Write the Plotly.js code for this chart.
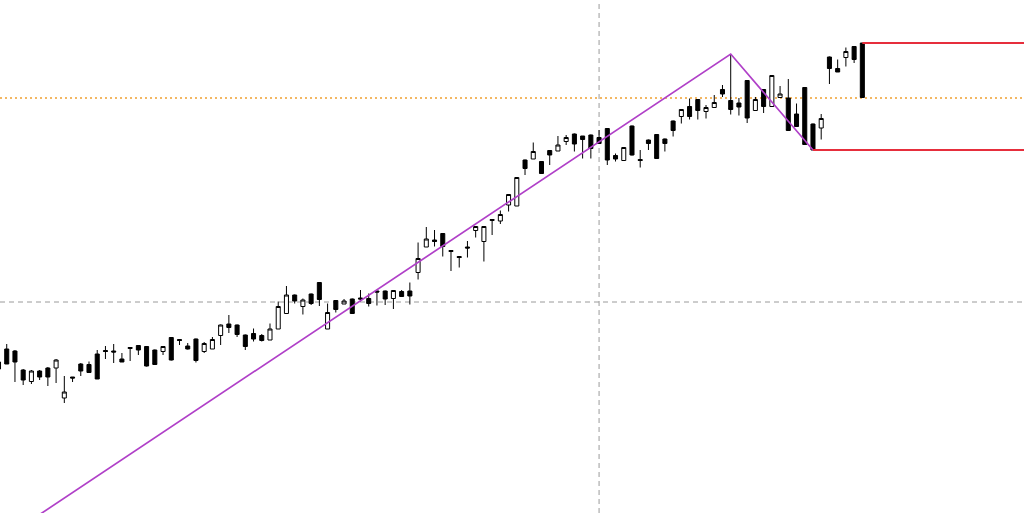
<!DOCTYPE html>
<html>
<head>
<meta charset="utf-8">
<script src="https://cdn.plot.ly/plotly-3.0.1.min.js"></script>
<style>html,body{margin:0;padding:0;background:#fff;}#chart{width:1024px;height:513px;}</style>
</head>
<body>
<div id="chart"></div>
<script>
// Price levels (arbitrary units), one candle per bar index
const opens = [151,164,162,143,131.5,142,145,145,115,136,149,148.5,159,162.5,162,154,164.5,167.5,166.5,163,161.5,175.5,173.5,167,174,161.5,164,177.5,189,188,178,179.5,177.5,173,184,199.5,218,206.5,219,230.5,184,212.5,209,214,215,214.5,222,222,214.5,221.5,222,240.5,266,273,279.5,262.5,256.5,266,282.5,271.5,292.5,292,308,307,353,354,351.5,362.5,362,371.5,379,377,378,375.5,384.5,357.5,352.5,387,353.5,373,378.5,374,392,396.5,406.5,413.5,401.5,405.5,423.5,412.5,410,432.5,402.5,423.5,406.5,415.5,415,399,425.5,389,385,456,444.5,455.5,466.5,470];
const highs = [153,169,163,144,143,143,146,154,137,136,150,151.5,163,167,169,160,166,167.5,167,163.5,167,176,173.5,170,174.5,171,176,188.5,198,188.5,178.5,184.5,179,189.5,211.5,227,218.5,214.5,219.5,231,209.5,213,214,214.5,223,219.5,222.5,222.5,223,223,230.5,270.5,286,283,280,262.5,256.5,272,287,287,293.5,302.5,319,336,353.5,370.5,352,363,377,378,379.5,377,378.5,383,385,359.5,366,387.5,363,373.5,379,374.5,392.5,404,414.5,414,408,418,428,459,415,433,416,424,438,427,434,409.5,426,389.5,399,456.5,453.5,465.5,467,470];
const lows = [142,149,131,128,129,133,127,130,110,131,137,140,134,154,150,151,152,158,146.5,148,158,152.5,168,163.5,150.5,160,164,168,180,176,163,171.5,171.5,173,184,199.5,209.5,198.5,208,207,184,200.5,209,199.5,211.5,206.5,207.5,208,204,216,208.5,233.5,266,266.5,256.5,242,245.5,255.5,275.5,251.5,278,289,301.5,307,338,354,339.5,348,362,368,361.5,354.5,354.5,369,348,351.5,352,357.5,345.5,363,354,361.5,376.5,389.5,393.5,393.5,394.5,405.5,416,398.5,397.5,390,402.5,400,406.5,415.5,382,386,368,363,373.5,429,441,446.5,450,415.5];
const closes = [144,149,151,133,142,136,136,153,121,135,142,140.5,134,161.5,161,151,165.5,163,147,148.5,166.5,153,172.5,164,152.5,169.5,173.5,188,185.5,178.5,166.5,174,172.5,184,206.5,218,212,213,209.5,213.5,200.5,203.5,212,199.5,214,209.5,221,214,222.5,216.5,217,254.5,274,271.5,266.5,261.5,255.5,265,286.5,286.5,293.5,298.5,318.5,335.5,344.5,361.5,339.5,358,368,375.5,369,373.5,364.5,369.5,353,354,365.5,358,352.5,369.5,354.5,369.5,382.5,403.5,396.5,402.5,405.5,410.5,419,403.5,406,395,413.5,406.5,437.5,419,382.5,386.5,368.5,363,394.5,444.5,441,461.5,453.5,415.5];
const bars = opens.map((_, i) => i);

// Trend line (zig-zag) anchor bars and levels
const trendBars = [4, 89, 99];
const trendLevels = [-7, 459, 363];

// Horizontal levels
const levelSupport = 211;      // grey dashed
const levelCurrent = 415;      // orange dotted
const levelRedTop = 470;       // red, from last bar
const levelRedBottom = 363;    // red, from bar 99
const redTopStart = 105;
const redBottomStart = 99;
const crossBar = 73;           // grey dashed vertical

const xMin = 0.182, xMax = 124.65;

const traces = [
  {
    type: 'candlestick',
    x: bars, open: opens, high: highs, low: lows, close: closes,
    increasing: {line: {color: '#000000', width: 1}, fillcolor: '#ffffff'},
    decreasing: {line: {color: '#000000', width: 1}, fillcolor: '#000000'},
    whiskerwidth: 0,
    hoverinfo: 'skip'
  },
  {
    type: 'scatter', mode: 'lines',
    x: trendBars, y: trendLevels,
    line: {color: '#b040c8', width: 1.7},
    hoverinfo: 'skip'
  },
  {
    type: 'scatter', mode: 'lines',
    x: [redTopStart, xMax + 1], y: [levelRedTop, levelRedTop],
    line: {color: '#e62e3c', width: 1.9}, hoverinfo: 'skip'
  },
  {
    type: 'scatter', mode: 'lines',
    x: [redBottomStart, xMax + 1], y: [levelRedBottom, levelRedBottom],
    line: {color: '#e62e3c', width: 1.9}, hoverinfo: 'skip'
  }
];

const layout = {
  width: 1024, height: 513,
  margin: {l: 0, r: 0, t: 0, b: 0},
  paper_bgcolor: '#ffffff', plot_bgcolor: '#ffffff',
  showlegend: false,
  xaxis: {range: [xMin, xMax], visible: false, rangeslider: {visible: false}, fixedrange: true},
  yaxis: {range: [0, 513], visible: false, fixedrange: true},
  shapes: [
    {type: 'line', xref: 'x', yref: 'paper', x0: crossBar, x1: crossBar, y0: 0, y1: 1,
     line: {color: '#9a9a9a', width: 1, dash: '5px,4px'}, layer: 'below'},
    {type: 'line', xref: 'paper', yref: 'y', x0: 0, x1: 1, y0: levelSupport, y1: levelSupport,
     line: {color: '#9a9a9a', width: 1, dash: '5px,4px'}, layer: 'below'},
    {type: 'line', xref: 'paper', yref: 'y', x0: 0, x1: 1, y0: levelCurrent, y1: levelCurrent,
     line: {color: '#f0a030', width: 1.4, dash: '2px,3px'}, layer: 'below'}
  ]
};

Plotly.newPlot('chart', traces, layout, {staticPlot: true, displayModeBar: false});
</script>
</body>
</html>
